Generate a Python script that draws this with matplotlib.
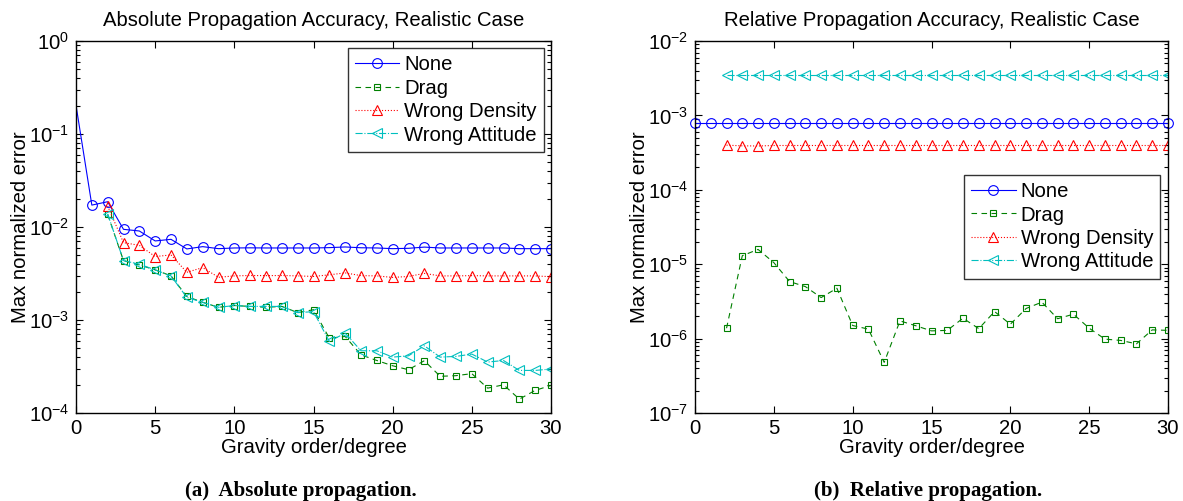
import numpy as np
import matplotlib
matplotlib.use("Agg")
import matplotlib.pyplot as plt
from matplotlib.ticker import LogLocator, FixedLocator, FuncFormatter, NullFormatter

plt.rcParams['font.family'] = ['Liberation Sans', 'DejaVu Sans']
plt.rcParams['mathtext.default'] = 'regular'

# ---------------- data ----------------
order = list(range(0, 31))
order_from2 = list(range(2, 31))

abs_none = [0.204, 0.0172, 0.0187, 0.00944, 0.00906, 0.00708, 0.00737, 0.00581, 0.00615, 0.00585,
            0.00595, 0.00597, 0.00595, 0.00595, 0.00595, 0.00595, 0.00600, 0.00610, 0.00598, 0.00595,
            0.00585, 0.00590, 0.00608, 0.00595, 0.00595, 0.00595, 0.00595, 0.00595, 0.00585, 0.00585, 0.00585]
abs_drag = [0.01367, 0.00435, 0.00391, 0.00346, 0.00298, 0.00179, 0.00155, 0.00137, 0.00143, 0.00140,
            0.00137, 0.00140, 0.00120, 0.00129, 0.000638, 0.000665, 0.000422, 0.000367, 0.000322, 0.000292,
            0.000365, 0.000248, 0.000252, 0.000265, 0.000185, 0.000201, 0.000141, 0.000175, 0.000198]
abs_density = [0.0168, 0.00679, 0.00635, 0.00481, 0.00501, 0.00326, 0.00366, 0.00288, 0.00298, 0.00301,
               0.00300, 0.00301, 0.00298, 0.00294, 0.00306, 0.00321, 0.00300, 0.00298, 0.00287, 0.00294,
               0.00317, 0.00298, 0.00298, 0.00300, 0.00298, 0.00298, 0.00298, 0.00298, 0.00292]
abs_attitude = [0.0138, 0.00435, 0.00398, 0.00346, 0.00298, 0.00175, 0.00155, 0.00137, 0.00143, 0.00140,
                0.00140, 0.00140, 0.00120, 0.00123, 0.000588, 0.000722, 0.000467, 0.000467, 0.000399, 0.000412,
                0.000528, 0.000399, 0.000406, 0.000430, 0.000353, 0.000367, 0.000287, 0.000287, 0.000297]

rel_none = [0.000794] * 31
rel_drag = [1.38e-6, 1.30e-5, 1.58e-5, 1.05e-5, 5.84e-6, 5.0e-6, 3.56e-6, 4.75e-6, 1.50e-6, 1.34e-6,
            4.79e-7, 1.73e-6, 1.49e-6, 1.27e-6, 1.29e-6, 1.88e-6, 1.36e-6, 2.31e-6, 1.56e-6, 2.54e-6,
            3.09e-6, 1.85e-6, 2.13e-6, 1.38e-6, 9.84e-7, 9.45e-7, 8.51e-7, 1.31e-6, 1.29e-6]
rel_density = [0.000398, 0.000390, 0.000388, 0.000394, 0.000394, 0.000394, 0.000394, 0.000394, 0.000394, 0.000394,
               0.000394, 0.000394, 0.000394, 0.000394, 0.000394, 0.000394, 0.000394, 0.000394, 0.000394, 0.000394,
               0.000394, 0.000394, 0.000394, 0.000394, 0.000394, 0.000394, 0.000394, 0.000394, 0.000394]
rel_attitude = [0.00346] * 29

labels = ["None", "Drag", "Wrong Density", "Wrong Attitude"]
titles = ["Absolute Propagation Accuracy, Realistic Case", "Relative Propagation Accuracy, Realistic Case"]
captions = ["(a)  Absolute propagation.", "(b)  Relative propagation."]
xlabel = "Gravity order/degree"
ylabel = "Max normalized error"

# ---------------- figure ----------------
W, H = 1183, 501
fig = plt.figure(figsize=(W / 100, H / 100), dpi=100)

def ax_rect(x0, x1, y0, y1):
    return [x0 / W, 1 - y1 / H, (x1 - x0) / W, (y1 - y0) / H]

axL = fig.add_axes(ax_rect(76, 551, 41, 413))
axR = fig.add_axes(ax_rect(695, 1168, 41, 413))

BLUE = (0, 0, 1)
GREEN = (0, 0.5, 0)
RED = (1, 0, 0)
CYAN = (0, 0.75, 0.75)
FS = 14.6
LW = 0.8

def style(ax, ylim):
    ax.set_yscale('log')
    ax.set_xlim(0, 30)
    ax.set_ylim(*ylim)
    ax.xaxis.set_major_locator(FixedLocator([0, 5, 10, 15, 20, 25, 30]))
    ax.yaxis.set_major_locator(LogLocator(base=10, numticks=20))
    ax.yaxis.set_minor_locator(LogLocator(base=10, subs=np.arange(2, 10), numticks=20))
    ax.yaxis.set_minor_formatter(NullFormatter())
    ax.yaxis.set_major_formatter(FuncFormatter(lambda v, p: r'$10^{%d}$' % int(round(np.log10(v)))))
    ax.tick_params(which='both', direction='in', top=True, right=True, labelsize=FS, width=0.8)
    ax.tick_params(which='major', length=5)
    ax.tick_params(which='minor', length=3)
    ax.tick_params(axis='x', pad=4)
    ax.tick_params(axis='y', pad=5)
    for s in ax.spines.values():
        s.set_linewidth(1.0)
    ax.set_xlabel(xlabel, fontsize=FS, labelpad=0)
    ax.set_ylabel(ylabel, fontsize=FS, labelpad=-1)

common_leg = dict(fontsize=FS, frameon=True, fancybox=False, edgecolor='black', numpoints=1,
                  handlelength=2.2, borderpad=0.35, labelspacing=0.22, handletextpad=0.25)

# Left panel
axL.plot(order, abs_none, '-o', color=BLUE, lw=LW, ms=7, mfc='none', mew=0.8,
         markevery=list(range(1, 31)), label=labels[0])
axL.plot(order_from2, abs_drag, '--s', color=GREEN, lw=LW, ms=5, mfc='none', mew=0.8, label=labels[1],
         dashes=(5, 4))
axL.plot(order_from2, abs_density, ':^', color=RED, lw=LW, ms=7, mfc='none', mew=0.8, label=labels[2])
axL.plot(order_from2, abs_attitude, '-.<', color=CYAN, lw=LW, ms=7, mfc='none', mew=0.8, label=labels[3])
style(axL, (1e-4, 1e0))
axL.set_title(titles[0], fontsize=FS, pad=11)
legL = axL.legend(loc='upper right', borderaxespad=0.35, **common_leg)
legL.get_frame().set_linewidth(1.0)

# Right panel
axR.plot(order, rel_none, '-o', color=BLUE, lw=LW, ms=7, mfc='none', mew=0.8, label=labels[0], clip_on=False)
axR.plot(order_from2, rel_drag, '--s', color=GREEN, lw=LW, ms=5, mfc='none', mew=0.8, label=labels[1],
         dashes=(5, 4))
axR.plot(order_from2, rel_density, ':^', color=RED, lw=LW, ms=7, mfc='none', mew=0.8, label=labels[2])
axR.plot(order_from2, rel_attitude, '-.<', color=CYAN, lw=LW, ms=7, mfc='none', mew=0.8, label=labels[3])
style(axR, (1e-7, 1e-2))
axR.set_title(titles[1], fontsize=FS, pad=11)
legR = axR.legend(loc='upper left', bbox_to_anchor=(269 / 473, 1 - 134 / 372), borderaxespad=0.0,
                  **common_leg)
legR.get_frame().set_linewidth(1.0)

# captions
fig.text(301 / W, 1 - 491 / H, captions[0], ha='center', va='center', fontsize=15,
         family='Liberation Serif', weight='bold')
fig.text(928 / W, 1 - 491 / H, captions[1], ha='center', va='center', fontsize=15,
         family='Liberation Serif', weight='bold')

fig.savefig('out.png', dpi=100, facecolor='white')
